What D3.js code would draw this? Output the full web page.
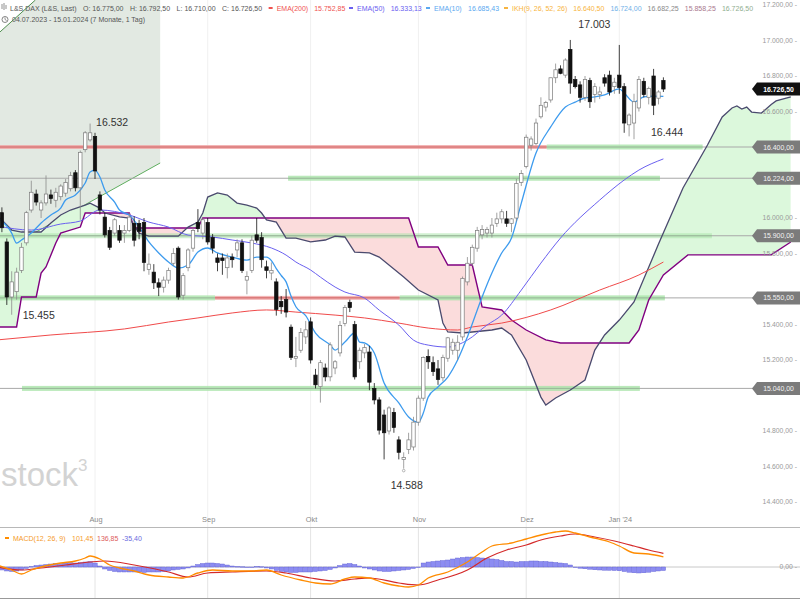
<!DOCTYPE html>
<html><head><meta charset="utf-8">
<script src="https://cdn.jsdelivr.net/npm/d3@7"></script>
<style>body{margin:0;background:#fff}svg{display:block;font-family:"Liberation Sans",Arial,sans-serif}</style>
</head><body>
<svg id="c" width="800" height="600"></svg>
<script>
// ---------- DATA ----------
const openP  = [16080,16030,15865,15555,15585,15705,15860,16045,16135,16045,16085,16130,16100,16120,16140,16165,16255,16170,16385,16440,16460,16130,16005,15930,15915,15930,15915,15930,15970,15970,15975,15710,15695,15635,15610,15650,15745,15830,15565,15720,15830,15975,15915,15975,15890,15775,15775,15720,15780,15820,15860,15650,15705,15905,15890,15725,15690,15640,15530,15540,15385,15210,15255,15330,15415,15115,15050,15155,15105,15155,15240,15405,15525,15400,15190,15240,15245,15040,14975,14890,14800,14905,14750,14640,14695,14710,14850,14985,15220,15185,15150,15100,15210,15255,15255,15330,15640,15745,15830,15905,15915,15915,15970,15995,15995,15970,16000,16200,16290,16410,16420,16570,16625,16665,16790,16840,16805,16950,16780,16750,16680,16775,16695,16695,16790,16805,16740,16805,16740,16525,16535,16620,16770,16680,16800,16675,16775];
const highP  = [16110,16060,15885,15700,15720,15860,16040,16210,16160,16100,16240,16160,16170,16190,16220,16260,16270,16380,16490,16532,16480,16150,16030,15950,16000,15960,15960,16030,16010,15990,16000,15800,15740,15660,15670,15720,15830,15840,15690,15830,15945,16050,16000,16000,15910,15800,15800,15800,15800,15880,15880,15700,15900,16000,15920,15760,15750,15660,15560,15600,15400,15330,15380,15420,15440,15150,15200,15180,15300,15200,15420,15510,15540,15420,15270,15290,15280,15070,14990,14920,14940,14930,14770,14680,14790,14880,15000,15220,15260,15220,15200,15230,15330,15320,15340,15670,15780,15850,15950,15960,15950,16000,16030,16050,16040,16000,16220,16270,16470,16460,16560,16680,16660,16790,16870,16860,16900,17003,16800,16770,16800,16790,16760,16740,16810,16830,16790,16975,16760,16590,16700,16800,16790,16740,16840,16720,16792.5];
const lowP   = [16020,15920,15510,15455,15540,15690,15845,16030,16070,16000,16070,16080,16060,16100,16120,16150,16150,15990,16370,16430,16220,16020,15890,15820,15900,15860,15860,15920,15840,15880,15700,15680,15600,15560,15580,15630,15730,15540,15540,15700,15810,15920,15880,15850,15800,15700,15680,15660,15720,15780,15690,15570,15690,15860,15720,15660,15650,15450,15460,15440,15200,15160,15240,15290,15180,15040,14960,15080,15080,15120,15220,15390,15470,15090,15150,15210,15030,14950,14780,14640,14780,14790,14640,14588,14670,14690,14830,14970,15150,15110,15060,15080,15190,15230,15200,15310,15620,15730,15810,15880,15890,15890,15950,15970,15950,15920,15980,16180,16280,16380,16410,16560,16600,16650,16760,16810,16790,16700,16730,16650,16660,16620,16650,16670,16740,16690,16700,16700,16480,16460,16444,16600,16680,16640,16580,16640,16710];
const closeP = [16040,15945,15555,15640,15695,15835,16030,16145,16090,16085,16135,16110,16145,16180,16200,16240,16170,16370,16480,16480,16265,16045,15905,15835,15990,15875,15930,16005,15875,15925,15750,15740,15635,15610,15650,15705,15800,15555,15675,15820,15930,15940,15990,15865,15830,15750,15760,15775,15765,15860,15705,15670,15875,15875,15765,15705,15705,15485,15500,15470,15215,15220,15355,15370,15200,15060,15185,15105,15285,15190,15395,15495,15495,15105,15255,15270,15075,14975,14805,14790,14930,14820,14680,14650,14750,14850,14985,15215,15190,15135,15090,15215,15325,15300,15300,15660,15745,15835,15930,15935,15935,15960,15995,16035,15970,15995,16195,16250,16455,16445,16535,16635,16650,16790,16835,16815,16890,16760,16740,16680,16780,16655,16740,16710,16760,16710,16765,16735,16535,16580,16655,16780,16695,16730,16635,16710,16726.5];

// indicator lines: [trading-day index, value]
const ema10  = [[0,16005],[3,15915],[4,15859],[5,15876],[7,15915],[9,15972],[11,16017],[13,16056],[14,16101],[16,16129],[18,16197],[19,16259],[20,16270],[21,16231],[22,16158],[24,16090],[25,16045],[27,16017],[29,15949],[31,15865],[33,15803],[35,15752],[37,15718],[39,15735],[41,15808],[43,15831],[45,15803],[48,15780],[51,15763],[53,15780],[55,15780],[56,15760],[57,15715],[58,15676],[59,15640],[60,15560],[61,15500],[63,15450],[65,15352],[68,15284],[69,15256],[71,15301],[73,15352],[74,15301],[75,15296],[77,15239],[79,15070],[82,14958],[84,14879],[86,14850],[87,14901],[88,14991],[90,15048],[92,15104],[94,15200],[96,15330],[99,15555],[101,15690],[103,15803],[105,15887],[107,16084],[110,16366],[113,16513],[116,16625],[118,16653],[120,16676],[122,16682],[124,16693],[127,16727],[128,16704],[130,16653],[132,16682],[134,16687],[136,16685]];
const ema50  = [[0,15955],[7,15932],[13,15966],[17,15983],[21,16045],[27,16017],[31,15977],[35,15949],[39,15904],[44,15893],[48,15876],[52,15859],[56,15831],[59,15791],[61,15752],[64,15707],[66,15667],[69,15611],[71,15583],[75,15549],[78,15481],[82,15397],[85,15312],[88,15284],[92,15273],[96,15312],[100,15397],[103,15453],[107,15594],[111,15746],[115,15887],[123,16101],[128,16214],[131,16270],[136,16333]];
const ema200 = [[0,15313],[11,15341],[26,15375],[35,15414],[41,15437],[48,15465],[55,15482],[61,15470],[69,15453],[75,15437],[82,15408],[88,15380],[94,15369],[97,15386],[103,15408],[113,15482],[123,15594],[131,15679],[136,15752]];
const senkouA = [[0,16017],[3,15932],[5,15921],[9,15921],[11,15972],[13,16017],[15,16045],[18,16073],[19,16084],[21,16056],[22,16028],[25,16006],[27,16000],[29,15915],[31,15898],[37,15898],[39,15949],[41,15977],[42,16028],[43,16118],[45,16141],[47,16129],[49,16084],[51,16073],[53,16056],[54,16028],[55,15989],[57,15977],[58,15932],[59,15887],[61,15887],[64,15865],[67,15876],[69,15898],[71,15893],[73,15808],[76,15803],[78,15780],[83,15667],[86,15594],[90,15538],[91,15408],[92,15358],[95,15352],[101,15369],[103,15380],[105,15341],[108,15200],[111,14991],[112,14946],[114,14986],[117,15031],[120,15087],[122,15256],[124,15341],[127,15425],[130,15527],[135,15853],[140,16169],[145,16411],[148,16569],[150,16620],[151,16631],[152,16614],[153,16625],[154,16597],[156,16591],[158,16640],[159,16660],[162,16682]];
const senkouB = [[0,15386],[4,15386],[5,15555],[8,15555],[9,15690],[10,15724],[12,15859],[13,15915],[17,15949],[18,16028],[27,16028],[28,15944],[41,15944],[42,16000],[84,16000],[86,15837],[90,15837],[92,15735],[97,15735],[99,15499],[103,15482],[105,15425],[108,15369],[112,15313],[115,15296],[129,15296],[131,15369],[133,15538],[136,15679],[141,15792],[158,15792],[162,15865]];
const macdLine = [[0,20],[3,-30],[5,-70],[7,-30],[9,0],[13,40],[16,60],[18,90],[19,110],[21,80],[23,20],[25,-10],[28,-40],[31,-80],[35,-100],[38,-110],[41,-60],[44,-30],[48,-40],[52,-40],[55,-30],[58,-80],[62,-130],[65,-160],[68,-170],[71,-120],[73,-100],[76,-110],[79,-160],[82,-190],[84,-200],[86,-180],[88,-110],[92,-50],[96,50],[99,150],[101,210],[105,240],[108,280],[111,320],[114,350],[116,360],[118,340],[121,300],[125,250],[127,210],[130,140],[133,130],[136,101.45]];
const signalLine = [[0,0],[5,-30],[9,-10],[14,20],[19,50],[22,60],[28,20],[35,-50],[39,-100],[43,-60],[48,-50],[55,-40],[59,-60],[64,-110],[69,-140],[73,-120],[76,-110],[82,-160],[86,-180],[90,-130],[96,-30],[100,90],[104,170],[108,220],[111,270],[115,310],[118,330],[122,300],[126,260],[130,210],[133,170],[136,136.85]];
const macdHist = [-20,-30,-40,-45,-40,-30,-15, 5,15,20,25,30,35,35,40,45,40,45,50,55,40,10, -20,-35,-45,-50,-50,-50,-50,-50,-55,-50,-50,-50,-45,-40,-30,-25,-20,-10, 10,25,35,40,40,35,30,20,10,5, 3,-5,-3,5,3, -10,-20,-35,-45,-50,-55,-55,-50,-50,-50,-45,-40,-35,-25,-10, 15,30,35,25,10, -10,-20,-30,-40,-45,-45,-40,-35,-30,-25,-15,-5, 40,50,55,60,65,70,80,90,95,100,100,95,90,85,80,75,65,55,55,50,55,55,60,60,55,55,50,45,40,35,20, -5,-12,-18,-22,-28,-30,-32,-33,-35,-38,-45,-52,-58,-60,-58,-52,-45,-40,-35.4];

const monthLabels = ["Aug","Sep","Okt","Nov","Dez","Jan '24"];
const monthStartIdx = [20,43,64,86,108,127];
const priceTicks = [14400,14600,14800,15000,15200,15400,15600,15800,16000,16200,16400,16600,16800,17000,17200];
const levelValues = [16400,16224,15900,15550,15040];
const levelZones = [[[0.6,112.2,"r"],[112.2,144,"g"]],[[59.4,135.3,"g"]],[[0.6,145.9,"g2"]],[[0.6,44.5,"g"],[44.5,82.2,"r"],[82.2,136.3,"g"]],[[5.1,131.2,"g"]]];
const extremes = [[19,16532,"16.532"],[3,15455,"15.455"],[83,14588,"14.588"],[117,17003,"17.003"],[130,16444,"16.444"]];
const channelUpper = [[0.6,17048],[5.1,17160]];
const channelLower = [[0.6,15808],[33.3,16310]];
const lastPrice = 16726.5;
const headerMain = ["L&S DAX (L&S, Last)","O: 16.775,00","H: 16.792,50","L: 16.710,00","C: 16.726,50"];
const headerInd = [["EMA(200)","#ef5350",true,275],["15.752,85","#ef5350",false,311],["EMA(50)","#6a60f0",true,357],["16.333,13","#6a60f0",false,387],["EMA(10)","#5aa8f0",true,434],["16.685,43","#5aa8f0",false,468],["IKH(9, 26, 52, 26)","#f7b440",true,512],["16.640,50","#f7b440",false,565],["16.724,00","#6fb0e8",false,604],["16.682,25","#888",false,638],["15.858,25","#a9788e",false,675],["16.726,50","#8fae8f",false,712]];
const macdLegend = [["MACD(12, 26, 9)","#f59a2a",13],["101,45","#f59a2a",72],["136,85","#dd5c5c",97],["-35,40","#6a6ae0",122]];

// ---------- SCALES ----------
const svg = d3.select("#c");
const x = d3.scaleLinear().domain([0,162]).range([-3,-3+162*4.9]);
const y = d3.scaleLinear().domain([14400,17200]).range([502,5]);
const ym = d3.scaleLinear().domain([-310,390]).range([598,528]);
const de = v => d3.format(",.2f")(v).replace(/,/g,"#").replace(".",",").replace(/#/g,".");

svg.append("rect").attr("width",800).attr("height",600).attr("fill","#fff");
const defs = svg.append("defs");
defs.append("clipPath").attr("id","mainClip").append("rect").attr("x",0).attr("y",0).attr("width",800).attr("height",527);
defs.append("clipPath").attr("id","macdClip").append("rect").attr("x",0).attr("y",528).attr("width",800).attr("height",70);

const g = svg.append("g").attr("clip-path","url(#mainClip)");

g.selectAll("line.vg").data(monthStartIdx).join("line").attr("class","vg")
 .attr("x1",d=>x(d)).attr("x2",d=>x(d)).attr("y1",0).attr("y2",527).attr("stroke","#f0f0f0");

// trend channel drawing
const lin = (p,i)=> p[0][1]+(i-p[0][0])*(p[1][1]-p[0][1])/(p[1][0]-p[0][0]);
const i0 = x.invert(0), vTop = y.invert(0);
const iTop = channelUpper[0][0]+(vTop-channelUpper[0][1])*(channelUpper[1][0]-channelUpper[0][0])/(channelUpper[1][1]-channelUpper[0][1]);
const iEnd = channelLower[1][0];
const poly = [[i0,lin(channelUpper,i0)],[iTop,vTop],[iEnd,vTop],[iEnd,channelLower[1][1]],[i0,lin(channelLower,i0)]];
const ln = d3.line().x(d=>x(d[0])).y(d=>y(d[1]));
g.append("path").attr("d",ln(poly)+"Z").attr("fill","#e2e9e2");
g.append("path").attr("d",ln([[i0,lin(channelLower,i0)],channelLower[1]])).attr("stroke","#5fae5f").attr("fill","none").attr("stroke-width",1);
g.append("path").attr("d",ln([[i0,lin(channelUpper,i0)],[iTop,vTop]])).attr("stroke","#4f8f4f").attr("fill","none").attr("stroke-width",1);

// ichimoku cloud
const below = pts => d3.area().x(d=>x(d[0])).y0(d=>y(d[1])).y1(540)(pts);
const above = pts => d3.area().x(d=>x(d[0])).y0(-10).y1(d=>y(d[1]))(pts);
defs.append("clipPath").attr("id","belowA").append("path").attr("d",below(senkouA));
defs.append("clipPath").attr("id","belowB").append("path").attr("d",below(senkouB));
g.append("g").attr("clip-path","url(#belowA)").append("path").attr("d",above(senkouB)).attr("fill","#dcf8dc");
g.append("g").attr("clip-path","url(#belowB)").append("path").attr("d",above(senkouA)).attr("fill","#fbdcdc");

// level lines and bands
levelValues.forEach((v,k)=>{
  g.append("line").attr("x1",0).attr("x2",755).attr("y1",y(v)).attr("y2",y(v)).attr("stroke","#a8a8a8").attr("stroke-width",1);
  levelZones[k].forEach(z=>{
    const red = z[2]==="r";
    const hgt = red ? 4 : 5;
    g.append("rect").attr("x",x(z[0])).attr("width",x(z[1])-x(z[0])).attr("y",y(v)-hgt/2).attr("height",hgt)
      .attr("fill",red?"#f0a4a4":"#a9e3a9").attr("opacity",z[2]==="g2"?0.55:0.8);
    g.append("line").attr("x1",x(z[0])).attr("x2",x(z[1])).attr("y1",y(v)).attr("y2",y(v))
      .attr("stroke",red?"#d46060":"#9ab89a").attr("stroke-width",1);
  });
});

g.append("path").attr("d",ln(senkouB)).attr("fill","none").attr("stroke","#800080").attr("stroke-width",1.4);
g.append("path").attr("d",ln(senkouA)).attr("fill","none").attr("stroke","#4a4a6e").attr("stroke-width",1.3);

const sm = d3.line().x(d=>x(d[0])).y(d=>y(d[1])).curve(d3.curveMonotoneX);
g.append("path").attr("d",sm(ema200)).attr("fill","none").attr("stroke","#f04a4a").attr("stroke-width",1);
g.append("path").attr("d",sm(ema50)).attr("fill","none").attr("stroke","#6a60f0").attr("stroke-width",1);
g.append("path").attr("d",sm(ema10)).attr("fill","none").attr("stroke","#3d9bee").attr("stroke-width",1.3);

// candles
const bw = 3.4;
const up = i => closeP[i]>=openP[i];
const cg = g.append("g").selectAll("g").data(d3.range(openP.length)).join("g");
cg.append("line").attr("x1",i=>x(i)).attr("x2",i=>x(i)).attr("y1",i=>y(highP[i])).attr("y2",i=>y(lowP[i]))
  .attr("stroke",i=>up(i)?"#8a8a8a":"#111").attr("stroke-width",0.8);
cg.append("rect").attr("x",i=>x(i)-bw/2).attr("y",i=>y(Math.max(openP[i],closeP[i])))
  .attr("width",bw).attr("height",i=>Math.max(1,y(Math.min(openP[i],closeP[i]))-y(Math.max(openP[i],closeP[i]))))
  .attr("fill",i=>up(i)?"#fff":"#111").attr("stroke",i=>up(i)?"#7a7a7a":"#111").attr("stroke-width",0.7);

// extremes annotations (offsets in px from the high/low point)
const annOff = {19:[6,2],3:[11,4],83:[-13,20],117:[8,-12],130:[17,-3]};
extremes.forEach(e=>{
  const o = annOff[e[0]];
  g.append("text").attr("x",x(e[0])+o[0]).attr("y",y(e[1])+o[1]).attr("font-size",10.5).attr("fill","#333").text(e[2]);
});
g.append("circle").attr("cx",x(83)).attr("cy",y(14588)+2).attr("r",1.3).attr("fill","none").attr("stroke","#888").attr("stroke-width",0.6);

// watermark
const wm = svg.append("text").attr("x",1).attr("y",486).attr("fill","#d3d3d3").attr("font-size",33);
wm.append("tspan").text("stock");
wm.append("tspan").attr("font-size",17).attr("dy",-15).text("3");

// price axis labels (those hidden behind level tags are left out)
const tagVals = levelValues.concat([lastPrice]);
const visTicks = priceTicks.filter(t=>tagVals.every(v=>Math.abs(y(t)-y(v))>=10));
svg.selectAll("text.pt").data(visTicks).join("text").attr("class","pt")
  .attr("x",797).attr("y",d=>y(d)+2.4).attr("text-anchor","end").attr("font-size",6.8).attr("fill","#9a9a9a")
  .text(d=>de(d)+" -");

const tag = (v,fill,tcol,bold)=>{
  const yy=y(v);
  svg.append("path").attr("d",`M752,${yy}L757,${yy-6.5}L800,${yy-6.5}L800,${yy+6.5}L757,${yy+6.5}Z`).attr("fill",fill);
  svg.append("text").attr("x",778.5).attr("y",yy+2.5).attr("text-anchor","middle").attr("font-size",6.9)
    .attr("font-weight",bold?"bold":"normal").attr("fill",tcol).text(de(v));
};
levelValues.forEach(v=>tag(v,"#7b7b7b","#f2f2f2",false));
tag(lastPrice,"#111","#fff",true);

// header
const FS = 7;
let cx = 10;
headerMain.forEach(t=>{
  const el = svg.append("text").attr("x",cx).attr("y",10.5).attr("font-size",FS).attr("fill","#555").text(t);
  cx += el.node().getComputedTextLength()+6.5;
});
cx = Math.max(cx, 267);
headerInd.forEach(d=>{
  let px = Math.max(d[3], cx + (d[2]?8:3));
  if (d[2]) { svg.append("rect").attr("x",px-8).attr("y",7).attr("width",4).attr("height",2).attr("fill",d[1]); }
  const el = svg.append("text").attr("x",px).attr("y",10.5).attr("font-size",FS).attr("fill",d[1]).text(d[0]);
  cx = px + el.node().getComputedTextLength() + 3;
});
[[2,4,9],[4,3,10],[6,5,9]].forEach(d=>svg.append("line").attr("x1",d[0]).attr("x2",d[0]).attr("y1",d[1]).attr("y2",d[2]).attr("stroke","#777").attr("stroke-width",0.8));
svg.append("circle").attr("cx",5).attr("cy",19.5).attr("r",3).attr("fill","none").attr("stroke","#666").attr("stroke-width",0.8);
svg.append("path").attr("d","M5,17.5L5,19.5L6.6,20.5").attr("fill","none").attr("stroke","#666").attr("stroke-width",0.7);
svg.append("text").attr("x",12).attr("y",22.3).attr("font-size",FS).attr("fill","#555").text("04.07.2023 - 15.01.2024  (7 Monate, 1 Tag)");

// x-axis labels and separators
svg.selectAll("text.m").data(monthLabels).join("text").attr("class","m")
  .attr("x",(d,i)=>x(monthStartIdx[i])+1).attr("y",522).attr("text-anchor","middle").attr("font-size",7.4).attr("fill","#8a8a8a").text(d=>d);
svg.append("line").attr("x1",0).attr("x2",800).attr("y1",527.5).attr("y2",527.5).attr("stroke","#b8b8b8");
svg.append("line").attr("x1",0).attr("x2",800).attr("y1",598.5).attr("y2",598.5).attr("stroke","#999");

// ---------- MACD panel ----------
const mg = svg.append("g").attr("clip-path","url(#macdClip)");
mg.selectAll("line.vg").data(monthStartIdx).join("line").attr("class","vg")
  .attr("x1",d=>x(d)).attr("x2",d=>x(d)).attr("y1",528).attr("y2",598).attr("stroke","#e4e4e4");
mg.append("line").attr("x1",0).attr("x2",800).attr("y1",ym(0)).attr("y2",ym(0)).attr("stroke","#c8c8c8");
mg.selectAll("rect.hb").data(macdHist).join("rect").attr("class","hb")
  .attr("x",(d,i)=>x(i)-2.2).attr("width",4.4)
  .attr("y",d=>Math.min(ym(d),ym(0))).attr("height",d=>Math.max(0.6,Math.abs(ym(d)-ym(0))))
  .attr("fill","#8c8cf2").attr("stroke","#5a5ad2").attr("stroke-width",0.4);
const ml = d3.line().x(d=>x(d[0])).y(d=>ym(d[1])).curve(d3.curveMonotoneX);
mg.append("path").attr("d",ml(signalLine)).attr("fill","none").attr("stroke","#d42a2a").attr("stroke-width",1.2);
mg.append("path").attr("d",ml(macdLine)).attr("fill","none").attr("stroke","#ff8c00").attr("stroke-width",1.3);
svg.append("text").attr("x",797).attr("y",ym(0)+2.4).attr("text-anchor","end").attr("font-size",6.8).attr("fill","#9a9a9a").text("0,00 -");
svg.append("rect").attr("x",5).attr("y",537).attr("width",4).attr("height",2).attr("fill","#ff8c00");
let lx = 0;
macdLegend.forEach(d=>{
  const px = Math.max(d[2], lx+3);
  const el = svg.append("text").attr("x",px).attr("y",541).attr("font-size",FS).attr("fill",d[1]).text(d[0]);
  lx = px + el.node().getComputedTextLength();
});
</script>
</body></html>
